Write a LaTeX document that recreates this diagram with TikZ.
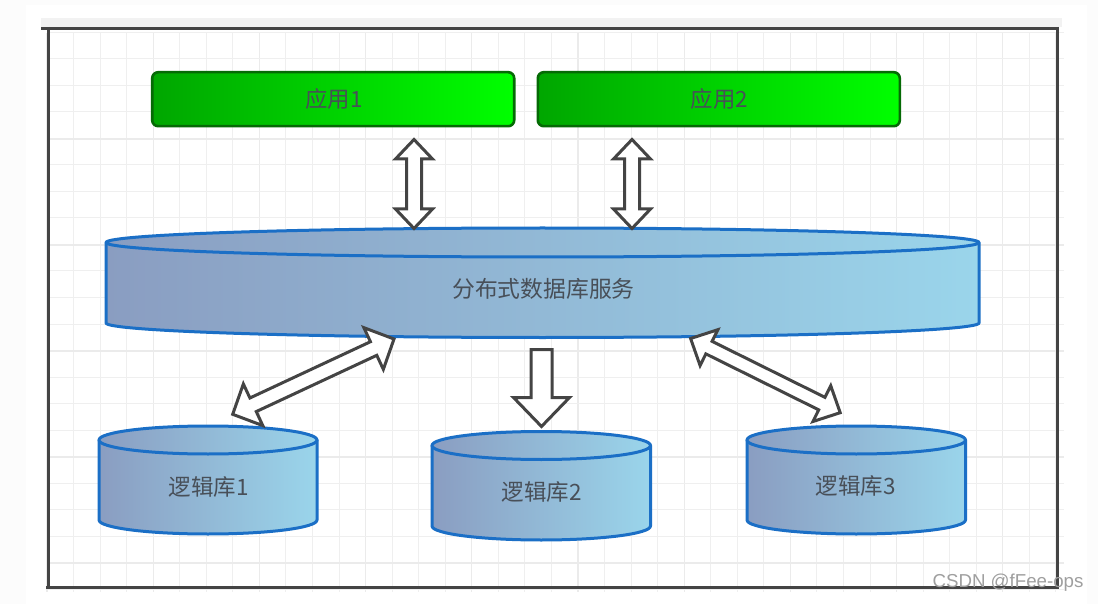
\documentclass[tikz,border=0pt]{standalone}
\usepackage{fontspec}
\usetikzlibrary{calc}
\setmainfont{Noto Sans CJK SC}
\newfontfamily\markfont{Liberation Sans}
\definecolor{framegray}{HTML}{444444}
\definecolor{bandgray}{HTML}{F2F2F2}
\definecolor{pagegray}{HTML}{FCFCFC}
\definecolor{gridminor}{HTML}{EFEFEF}
\definecolor{gridmajor}{HTML}{EBEBEB}
\definecolor{cylleft}{HTML}{8A9DC1}
\definecolor{cylright}{HTML}{9AD5EB}
\definecolor{cylline}{HTML}{1B6FC6}
\definecolor{appdark}{HTML}{00A600}
\definecolor{applight}{HTML}{00FF00}
\definecolor{appline}{HTML}{056A05}
\definecolor{labelgray}{HTML}{484F58}
\tikzset{
  x=1pt,y=-1pt,
  cylpart/.style={draw=cylline,line width=3pt,left color=cylleft,right color=cylright,line join=round},
  appbox/.style={draw=appline,line width=2.6pt,rounded corners=6pt,left color=appdark,right color=applight,
    minimum width=362pt,minimum height=54pt,inner sep=0pt,font=\fontsize{22.4}{24}\selectfont,text=labelgray},
  cyllabel/.style={font=\fontsize{22.5}{24}\selectfont,text=labelgray,inner sep=0pt},
  blockarrow/.style={draw=framegray,line width=3pt,fill=white,line join=miter,miter limit=6},
  framerule/.style={draw=framegray,line width=3pt},
}
% name, left x, right x, ellipse centre y, side end y, ry
\newcommand{\cylshape}[6]{%
  \pgfmathsetmacro{\cylrx}{(#3-#2)/2}%
  \draw[cylpart] (#2,#4) -- (#2,#5) arc[x radius=\cylrx,y radius=#6,start angle=180,end angle=0] -- (#3,#4) -- cycle;
  \draw[cylpart] ({(#2+#3)/2},#4) ellipse[x radius=\cylrx,y radius=#6];
  \coordinate (#1) at ({(#2+#3)/2},#4);
}
% two-headed block arrow: from, to, head length, head half-width, shaft half-width
\newcommand{\dblblock}[5]{%
  \draw[blockarrow] (#1)
   -- ($(#1)!#3pt!(#2)!#4pt!90:(#2)$) -- ($(#1)!#3pt!(#2)!#5pt!90:(#2)$)
   -- ($(#2)!#3pt!(#1)!#5pt!-90:(#1)$) -- ($(#2)!#3pt!(#1)!#4pt!-90:(#1)$)
   -- (#2)
   -- ($(#2)!#3pt!(#1)!#4pt!90:(#1)$) -- ($(#2)!#3pt!(#1)!#5pt!90:(#1)$)
   -- ($(#1)!#3pt!(#2)!#5pt!-90:(#2)$) -- ($(#1)!#3pt!(#2)!#4pt!-90:(#2)$)
   -- cycle;
}
\newcommand{\oneblock}[5]{%
  \draw[blockarrow] (#2)
   -- ($(#2)!#3pt!(#1)!#4pt!90:(#1)$) -- ($(#2)!#3pt!(#1)!#5pt!90:(#1)$)
   -- ($(#1)!#5pt!-90:(#2)$) -- ($(#1)!#5pt!90:(#2)$)
   -- ($(#2)!#3pt!(#1)!#5pt!-90:(#1)$) -- ($(#2)!#3pt!(#1)!#4pt!-90:(#1)$)
   -- cycle;
}
\begin{document}
\begin{tikzpicture}
\useasboundingbox (0,0) rectangle (1098,604);
\fill[pagegray] (0,0) rectangle (1098,604);
\fill[white] (26,5) rectangle (1087,604);
\fill[bandgray] (41,18) rectangle (1062,27);
% grid
\foreach \k in {0,...,38} {
  \pgfmathsetmacro{\gx}{47+26.55*\k}
  \pgfmathtruncatemacro{\gm}{mod(\k,4)==0}
  \ifnum\gm=1 \draw[gridmajor,line width=1.3pt] (\gx,33) -- (\gx,592);
  \else \draw[gridminor,line width=1pt] (\gx,33) -- (\gx,592); \fi
}
\foreach \k in {0,...,21} {
  \pgfmathsetmacro{\gy}{32.5+26.5*\k}
  \draw[gridminor,line width=1pt] (48,\gy) -- (1064,\gy);
}
\foreach \gy in {139,245,351,457,563} \draw[gridmajor,line width=1.3pt] (48,\gy) -- (1064,\gy);
% frame
\draw[framerule] (41,28.5) -- (1058,28.5);
\draw[framerule] (48,27) -- (48,588);
\draw[framerule] (1057.5,27) -- (1057.5,588);
\draw[framerule] (46,587) -- (1059,587);
% applications
\node[appbox] (app1) at (333.2,99.2) {\hspace*{1.5pt}应用1};
\node[appbox] (app2) at (718.8,99.2) {\hspace*{1.5pt}应用2};
% cylinders
\cylshape{servicetop}{106}{979}{242.5}{323}{14.5}
\cylshape{lib1top}{99}{317}{440}{520}{14}
\cylshape{lib2top}{432}{650.5}{445.5}{526}{14}
\cylshape{lib3top}{747}{965.5}{440}{520}{14}
\node[cyllabel,font=\fontsize{22.8}{24}\selectfont] (service) at (543.5,289) {分布式数据库服务};
\node[cyllabel] (lib1) at (208.5,487) {逻辑库1};
\node[cyllabel] (lib2) at (541.5,492) {逻辑库2};
\node[cyllabel] (lib3) at (855.5,486) {逻辑库3};
% arrow ends
\coordinate (a1top) at (414,139.5);
\coordinate (a1bot) at (414,228.5);
\coordinate (a2top) at (632,139.5);
\coordinate (a2bot) at (632,228.5);
\coordinate (a3top) at (541.5,349.5);
\coordinate (a3bot) at (541.5,426.5);
\coordinate (a4top) at (394,339);
\coordinate (a4bot) at (232.7,414.3);
\coordinate (a5top) at (690.6,338.5);
\coordinate (a5bot) at (840.2,412.7);
\dblblock{a1top}{a1bot}{19.5}{18.5}{7.5}
\dblblock{a2top}{a2bot}{19.5}{18.5}{7.5}
\oneblock{a3top}{a3bot}{29}{28}{10.5}
\dblblock{a4top}{a4bot}{22.5}{23}{7.5}
\dblblock{a5top}{a5bot}{20.5}{20}{7}
% watermark
\node[font=\markfont\fontsize{18.7}{20}\selectfont,text=gray!75,inner sep=0pt] (mark) at (1008,583) {CSDN @fFee-ops};
\end{tikzpicture}
\end{document}
